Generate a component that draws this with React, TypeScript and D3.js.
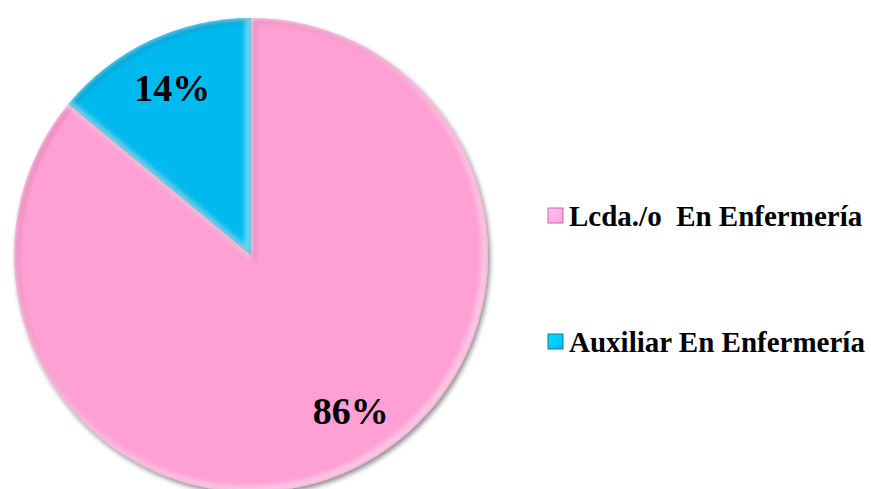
import React from 'react';
import * as d3 from 'd3';

const categories = ['Lcda./o  En Enfermería', 'Auxiliar En Enfermería'];
const values = [86, 14];
const labels = ['86%', '14%'];
const colors = ['#FFA0D4', '#00BAEF'];
const edgeColors = ['#c9679f', '#0a7fa8'];

const width = 871;
const height = 489;
const cx = 251;
const cy = 255;
const radius = 237;

const App: React.FC = () => {
  const pie = d3.pie<number>().sort(null).value(d => d);
  const arcs = pie(values);
  const arc = d3.arc<d3.PieArcDatum<number>>().innerRadius(0).outerRadius(radius);

  // Excel style label placement: centroid at ~0.78r, pink nudged toward the bottom-right
  const labelArc = d3.arc<d3.PieArcDatum<number>>().innerRadius(radius * 0.78).outerRadius(radius * 0.78);
  const nudge = [-0.13, 0];

  const legendY = d3.scalePoint<string>().domain(categories).range([216, 342]);

  return (
    <svg width={width} height={height} style={{ position: 'absolute', left: 0, top: 0 }}
      fontFamily="'Liberation Serif', 'Times New Roman', serif">
      <defs>
        <filter id="shadow" x="-10%" y="-10%" width="120%" height="120%">
          <feGaussianBlur in="SourceAlpha" stdDeviation="2.5" />
          <feOffset dx="2" dy="3" result="b" />
          <feComponentTransfer><feFuncA type="linear" slope="0.45" /></feComponentTransfer>
          <feMerge><feMergeNode /><feMergeNode in="SourceGraphic" /></feMerge>
        </filter>
        <filter id="soft"><feGaussianBlur stdDeviation="2.5" /></filter>
        {arcs.map((a, i) => (
          <clipPath id={`clip${i}`} key={i}>
            <path d={arc(a) ?? ''} />
          </clipPath>
        ))}
        {colors.map((c, i) => (
          <linearGradient id={`lg${i}`} key={i} x1="0" y1="0" x2="1" y2="1">
            <stop offset="0" stopColor={d3.color(c)!.brighter(0.5).formatHex()} />
            <stop offset="1" stopColor={c} />
          </linearGradient>
        ))}
      </defs>

      <g transform={`translate(${cx},${cy})`}>
        <g filter="url(#shadow)">
          {arcs.map((a, i) => (
            <path key={i} d={arc(a) ?? ''} fill={colors[i]} />
          ))}
        </g>
        {arcs.map((a, i) => (
          <g key={i} clipPath={`url(#clip${i})`}>
            <path d={arc(a) ?? ''} fill="none" stroke={edgeColors[i]} strokeWidth={5}
              opacity={0.55} filter="url(#soft)" transform="translate(2,2)" />
            <path d={arc(a) ?? ''} fill="none" stroke="#ffffff" strokeWidth={8}
              opacity={0.45} filter="url(#soft)" transform="translate(-2,-2)" />
          </g>
        ))}
        {arcs.map((a, i) => {
          const shifted = { ...a, startAngle: a.startAngle + nudge[i], endAngle: a.endAngle + nudge[i] };
          const [x, y] = labelArc.centroid(shifted);
          return (
            <text key={i} x={x} y={y} dy="0.35em" textAnchor="middle"
              fontSize={38} fontWeight="bold" fill="#000">
              {labels[i]}
            </text>
          );
        })}
      </g>

      {categories.map((c, i) => {
        const y = legendY(c) ?? 0;
        return (
          <g key={c}>
            <rect x={548} y={y - 8} width={15} height={15} fill={`url(#lg${i})`}
              stroke={edgeColors[i]} strokeWidth={1} />
            <text x={569} y={y} dy="0.35em" fontSize={29} fontWeight="bold" fill="#000"
              style={{ whiteSpace: 'pre' }}>
              {c}
            </text>
          </g>
        );
      })}
    </svg>
  );
};

export default App;
